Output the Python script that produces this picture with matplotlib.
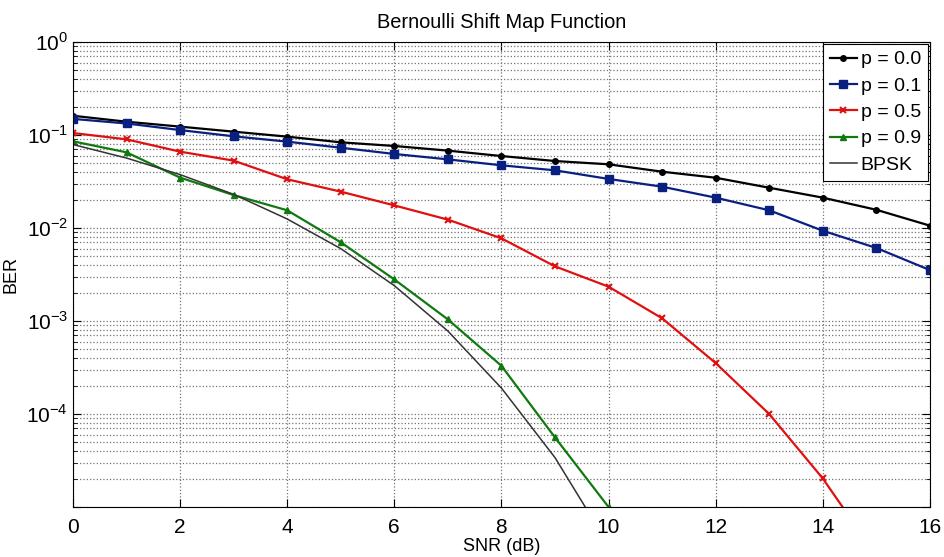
import numpy as np
import matplotlib
matplotlib.use('Agg')
import matplotlib.pyplot as plt

plt.rcParams['font.family'] = ['Liberation Sans', 'DejaVu Sans']
plt.rcParams['mathtext.fontset'] = 'custom'
plt.rcParams['mathtext.rm'] = 'Liberation Sans'

nan = np.nan
snr = np.arange(0, 17)

ber_p00 = [0.161, 0.139, 0.123, 0.1086, 0.096, 0.0834, 0.0762, 0.0679, 0.0594,
           0.0525, 0.0484, 0.0403, 0.0347, 0.0271, 0.0212, 0.0157, 0.0106]
ber_p01 = [0.149, 0.133, 0.113, 0.0968, 0.0848, 0.073, 0.0625, 0.0547, 0.0472,
           0.0417, 0.0337, 0.0278, 0.0212, 0.0155, 0.00935, 0.0061, 0.00353]
ber_p05 = [0.105, 0.0898, 0.0662, 0.053, 0.0334, 0.0246, 0.0175, 0.0123, 0.00774,
           0.00387, 0.00234, 0.00107, 3.53e-4, 1.0e-4, 2.03e-5, 3.0e-6, nan]
ber_p09 = [0.0855, 0.0651, 0.0348, 0.0226, 0.0155, 0.00702, 0.0028, 0.00104, 3.3e-4,
           5.6e-5, 1.0e-5, nan, nan, nan, nan, nan, nan]
ber_bpsk = [0.079, 0.0565, 0.0375, 0.023, 0.0125, 0.006, 0.0024, 7.8e-4, 1.9e-4,
            3.4e-5, 3.9e-6, nan, nan, nan, nan, nan, nan]

xticks = [0, 2, 4, 6, 8, 10, 12, 14, 16]
ydecades = [1e0, 1e-1, 1e-2, 1e-3, 1e-4, 1e-5]
ylabels = [r'$10^{0}$', r'$10^{-1}$', r'$10^{-2}$', r'$10^{-3}$', r'$10^{-4}$', '']

fig = plt.figure(figsize=(9.44, 5.57), dpi=100)
ax = fig.add_axes([0.0773, 0.0898, 0.9077, 0.8348])

ax.semilogy(snr, ber_p00, '-o', color='black', lw=1.6, ms=4, label='p = 0.0')
ax.semilogy(snr, ber_p01, '-s', color='#0a2080', lw=1.6, ms=5.5, label='p = 0.1')
ax.semilogy(snr, ber_p05, '-x', color='#e01010', lw=1.6, ms=4, mew=1.5, label='p = 0.5')
ax.semilogy(snr, ber_p09, '-^', color='#107a10', lw=1.6, ms=5, label='p = 0.9')
ax.semilogy(snr, ber_bpsk, '-', color='#333333', lw=1.1, label='BPSK')

ax.set_xlim(0, 16)
ax.set_ylim(1e-5, 1)
ax.set_xticks(xticks)
ax.set_yticks(ydecades, ylabels)
ax.tick_params(axis='both', which='both', direction='in', top=True, right=True,
               labelsize=15)
ax.tick_params(which='major', length=6)
ax.tick_params(which='minor', length=3)
ax.tick_params(axis='x', pad=8)

ax.grid(True, which='major', linestyle=':', color='0.45', lw=0.9)
ax.grid(True, which='minor', axis='y', linestyle=':', color='0.45', lw=0.9)

ax.set_title('Bernoulli Shift Map Function', fontsize=14.4, pad=10)
ax.set_xlabel('SNR (dB)', fontsize=13, labelpad=1)
ax.set_ylabel('BER', fontsize=13)
ax.yaxis.set_label_coords(-0.062, 0.5)

leg = ax.legend(loc='upper right', fontsize=14, frameon=True, fancybox=False,
                borderaxespad=0.1, handlelength=1.4, handletextpad=0.2,
                labelspacing=0.45, borderpad=0.35)
leg.get_frame().set_edgecolor('black')
leg.get_frame().set_linewidth(0.8)
leg.get_frame().set_alpha(1)

fig.savefig('out.png', dpi=100)
